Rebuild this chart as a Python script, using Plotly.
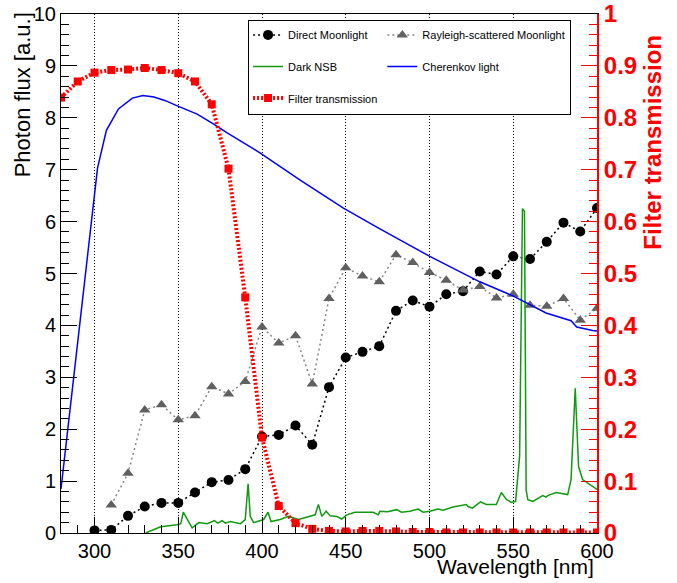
import plotly.graph_objects as go

# ---------------- data ----------------
wl_direct = [300, 310, 320, 330, 340, 350, 360, 370, 380, 390, 400, 410, 420, 430, 440, 450,
             460, 470, 480, 490, 500, 510, 520, 530, 540, 550, 560, 570, 580, 590, 600]
direct = [0.05, 0.06, 0.33, 0.51, 0.58, 0.58, 0.78, 0.98, 1.02, 1.23, 1.86, 1.89, 2.07, 1.70, 2.81, 3.38,
          3.49, 3.60, 4.28, 4.48, 4.36, 4.60, 4.66, 5.04, 4.98, 5.33, 5.28, 5.61, 5.98, 5.81, 6.26]

wl_rayleigh = [310, 320, 330, 340, 350, 360, 370, 380, 390, 400, 410, 420, 430, 440, 450,
               460, 470, 480, 490, 500, 510, 520, 530, 540, 550, 560, 570, 580, 590, 600]
rayleigh = [0.54, 1.15, 2.37, 2.47, 2.18, 2.26, 2.82, 2.68, 2.92, 3.97, 3.66, 3.80, 2.87, 4.52, 5.11,
            4.95, 4.84, 5.36, 5.21, 5.02, 4.87, 4.68, 4.75, 4.53, 4.60, 4.39, 4.37, 4.52, 4.10, 4.33]

wl_nsb = [330.5, 339.5, 349.4, 351.5, 353.0, 355.4, 358.3, 362.3, 367.3, 371.6, 373.6, 376.2, 378.2,
          381.1, 387.1, 390.0, 391.7, 393.0, 395.0, 401.0, 403.6, 405.4, 410.9, 415.8, 421.8, 431.7,
          433.7, 435.7, 438.3, 440.7, 444.6, 447.6, 450.6, 455.5, 466.4, 469.4, 470.4, 475.0, 480.4,
          483.3, 488.3, 493.2, 496.2, 500.2, 505.1, 508.1, 514.0, 522.0, 523.0, 525.6, 530.4, 533.9,
          539.9, 542.9, 545.8, 548.8, 551.4, 553.8, 555.5, 556.7, 557.7, 558.7, 561.7, 567.6, 569.6,
          570.5, 575.6, 582.5, 584.5, 587.0, 589.0, 591.4, 598.4, 600.0]
nsb = [0.00, 0.12, 0.16, 0.18, 0.40, 0.26, 0.10, 0.20, 0.18, 0.24, 0.19, 0.24, 0.19,
       0.22, 0.18, 0.26, 0.95, 0.32, 0.20, 0.26, 0.40, 0.22, 0.26, 0.32, 0.26, 0.35,
       0.55, 0.32, 0.42, 0.33, 0.32, 0.27, 0.35, 0.40, 0.40, 0.35, 0.42, 0.41, 0.45,
       0.40, 0.42, 0.46, 0.40, 0.42, 0.46, 0.44, 0.50, 0.55, 0.51, 0.48, 0.60, 0.55,
       0.55, 0.78, 0.65, 0.59, 0.61, 1.48, 6.25, 6.20, 0.83, 0.64, 0.61, 0.72, 0.69,
       0.72, 0.78, 0.74, 1.03, 2.79, 1.28, 1.03, 0.87, 0.84]

wl_cherenkov = [280.0, 301.8, 307.1, 314.3, 322.6, 328.9, 335.5, 342.4, 349.4, 361.3, 371.2, 379.2,
                399.0, 422.8, 448.6, 470.4, 500.2, 530.0, 549.8, 569.6, 584.5, 587.9, 597.4, 600.0]
cherenkov = [0.85, 7.03, 7.76, 8.17, 8.38, 8.43, 8.40, 8.33, 8.23, 8.07, 7.88, 7.71,
             7.32, 6.80, 6.26, 5.86, 5.33, 4.84, 4.57, 4.24, 4.09, 3.97, 3.90, 3.89]

wl_filter = [280, 290, 300, 310, 320, 330, 340, 350, 360, 370, 380, 390, 400, 410, 420, 430, 440,
             450, 460, 470, 480, 490, 500, 510, 520, 530, 540, 550, 560, 570, 580, 590, 600]
filt = [0.839, 0.870, 0.887, 0.892, 0.893, 0.896, 0.892, 0.886, 0.870, 0.826, 0.702, 0.454, 0.184,
        0.052, 0.019, 0.008, 0.004, 0.003, 0.004, 0.004, 0.003, 0.002, 0.002, 0.001, 0.001, 0.001,
        0.001, 0.001, 0.001, 0.001, 0.001, 0.001, 0.001]

x_ticks = [300, 350, 400, 450, 500, 550, 600]

FONT = "Liberation Sans, Arial, Helvetica, sans-serif"
NB = "<br>\u00a0"

fig = go.Figure()

fig.add_trace(go.Scatter(
    x=wl_direct, y=direct, mode="lines+markers", name="Direct Moonlight" + NB,
    legendgroup="a",
    line=dict(color="black", width=1.5, dash="2px,3px"),
    marker=dict(symbol="circle", size=10, color="black")))

fig.add_trace(go.Scatter(
    x=wl_rayleigh, y=rayleigh, mode="lines+markers", name="Rayleigh-scattered Moonlight" + NB,
    legendgroup="b",
    line=dict(color="#888888", width=1.5, dash="2px,3px"),
    marker=dict(symbol="triangle-up", size=10, color="#606060")))

fig.add_trace(go.Scatter(
    x=wl_nsb, y=nsb, mode="lines", name="Dark NSB" + NB,
    legendgroup="a",
    line=dict(color="#109a10", width=1.5)))

fig.add_trace(go.Scatter(
    x=wl_cherenkov, y=cherenkov, mode="lines", name="Cherenkov light" + NB,
    legendgroup="b",
    line=dict(color="#0000ff", width=1.5)))

fig.add_trace(go.Scatter(
    x=wl_filter, y=filt, mode="lines+markers", name="Filter transmission",
    legendgroup="a", yaxis="y2",
    line=dict(color="#ff0000", width=4, dash="2px,2px"),
    marker=dict(symbol="square", size=8, color="#ff0000")))

fig.update_layout(
    width=677, height=583,
    margin=dict(l=61, r=80, t=14, b=50, autoexpand=False),
    paper_bgcolor="white", plot_bgcolor="white",
    font=dict(family=FONT, color="black"),
    showlegend=True,
    legend=dict(
        orientation="h", x=0.349, y=0.988, xanchor="left", yanchor="top",
        bgcolor="white", bordercolor="black", borderwidth=1,
        font=dict(family=FONT, size=11, color="black"),
        valign="top", traceorder="grouped", tracegroupgap=0, itemwidth=30),
    xaxis=dict(
        range=[280, 600], showline=True, linecolor="black", linewidth=1, mirror=True,
        automargin=False, ticklabeloverflow="allow",
        tickmode="array", tickvals=x_ticks, ticks="inside", ticklen=16, tickcolor="black",
        tickfont=dict(family=FONT, size=20, color="black"),
        minor=dict(dtick=10, tick0=300, ticks="inside", ticklen=8, tickcolor="black", showgrid=False),
        showgrid=True, gridcolor="black", gridwidth=1, griddash="1px,2px", zeroline=False),
    xaxis2=dict(
        range=[280, 600], overlaying="x", side="top", anchor="y", automargin=False,
        tickmode="array", tickvals=x_ticks, ticks="inside", ticklen=4, tickcolor="black",
        showticklabels=False, showgrid=False, showline=False, zeroline=False),
    yaxis=dict(
        range=[0, 10], showline=True, linecolor="black", linewidth=1, automargin=False,
        ticklabeloverflow="allow",
        tickmode="linear", tick0=0, dtick=1, ticks="inside", ticklen=16, tickcolor="black",
        tickfont=dict(family=FONT, size=20, color="black"),
        minor=dict(dtick=0.2, ticks="inside", ticklen=8, tickcolor="black", showgrid=False),
        showgrid=False, zeroline=False),
    yaxis2=dict(
        range=[0, 1], overlaying="y", side="right", anchor="x", automargin=False,
        ticklabeloverflow="allow",
        showline=True, linecolor="#ff0000", linewidth=2,
        tickmode="linear", tick0=0, dtick=0.1, ticks="inside", ticklen=16, tickcolor="#ff0000",
        tickfont=dict(family=FONT, size=24, color="#ff0000", weight="bold"),
        minor=dict(dtick=0.02, ticks="inside", ticklen=8, tickcolor="#ff0000", showgrid=False),
        showgrid=False, zeroline=False),
    annotations=[
        dict(text="Photon flux [a.u.]", xref="paper", yref="paper", x=-0.0728, y=1.008,
             xanchor="center", yanchor="top", textangle=-90, showarrow=False,
             font=dict(family=FONT, size=22, color="black")),
        dict(text="Wavelength [nm]", xref="paper", yref="paper", x=0.998, y=-0.0655,
             xanchor="right", yanchor="middle", showarrow=False,
             font=dict(family=FONT, size=21, color="black")),
        dict(text="Filter transmission", xref="paper", yref="paper", x=1.1045, y=0.963,
             xanchor="center", yanchor="top", textangle=-90, showarrow=False,
             font=dict(family=FONT, size=24, color="#ff0000", weight="bold")),
    ],
)

fig.write_html("out.html",
               config={"displayModeBar": False},
               post_script="document.body.style.margin='0px';document.body.style.overflow='hidden';")
